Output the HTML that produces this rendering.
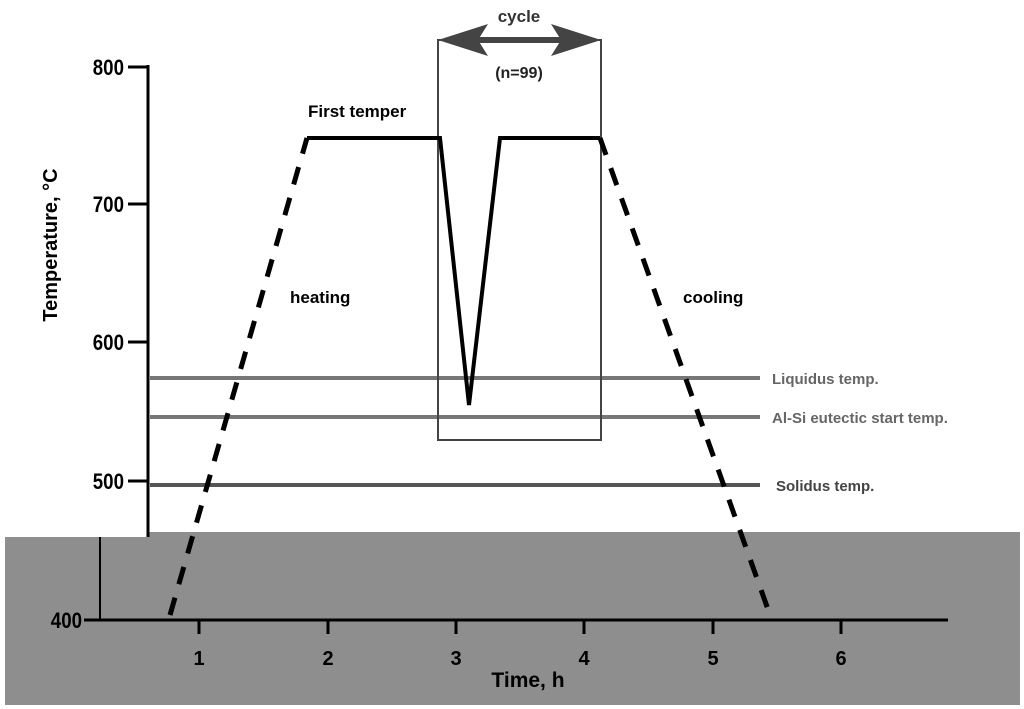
<!DOCTYPE html>
<html><head><style>
html,body{margin:0;padding:0;background:#fff;}
svg{display:block;}
text{font-family:"Liberation Sans",sans-serif;font-weight:bold;}
</style></head><body>
<svg width="1024" height="709" viewBox="0 0 1024 709" xmlns="http://www.w3.org/2000/svg">
<rect width="1024" height="709" fill="#fff"/>
<polygon points="5,537 148,537 148,532 1020,532 1020,705 5,705" fill="#8e8e8e"/>
<line x1="148" y1="65" x2="148" y2="537" stroke="#000" stroke-width="3"/>
<line x1="128" y1="67" x2="148" y2="67" stroke="#000" stroke-width="3"/>
<line x1="128" y1="204" x2="148" y2="204" stroke="#000" stroke-width="3"/>
<line x1="128" y1="342" x2="148" y2="342" stroke="#000" stroke-width="3"/>
<line x1="128" y1="481" x2="148" y2="481" stroke="#000" stroke-width="3"/>
<g font-size="22" text-anchor="end" fill="#000">
<text x="124" y="75" transform="translate(124,0) scale(0.85,1) translate(-124,0)">800</text>
<text x="124" y="212" transform="translate(124,0) scale(0.85,1) translate(-124,0)">700</text>
<text x="124" y="350" transform="translate(124,0) scale(0.85,1) translate(-124,0)">600</text>
<text x="124" y="489" transform="translate(124,0) scale(0.85,1) translate(-124,0)">500</text>
</g>
<line x1="100" y1="537" x2="100" y2="620" stroke="#000" stroke-width="2"/>
<line x1="84" y1="620" x2="948" y2="620" stroke="#000" stroke-width="3"/>
<text x="82" y="628" font-size="22" text-anchor="end" transform="translate(82,0) scale(0.85,1) translate(-82,0)">400</text>
<g stroke="#000" stroke-width="3">
<line x1="199" y1="620" x2="199" y2="634"/><line x1="328" y1="620" x2="328" y2="634"/>
<line x1="456" y1="620" x2="456" y2="634"/><line x1="584" y1="620" x2="584" y2="634"/>
<line x1="713" y1="620" x2="713" y2="634"/><line x1="841" y1="620" x2="841" y2="634"/>
</g>
<g font-size="20" text-anchor="middle">
<text x="199" y="665">1</text><text x="328" y="665">2</text><text x="456" y="665">3</text>
<text x="584" y="665">4</text><text x="713" y="665">5</text><text x="841" y="665">6</text>
</g>
<text x="528" y="687" font-size="21" text-anchor="middle">Time, h</text>
<text transform="translate(57,245) rotate(-90)" font-size="20" text-anchor="middle">Temperature, °C</text>
<line x1="150" y1="378" x2="760" y2="378" stroke="#777" stroke-width="4"/>
<line x1="150" y1="417" x2="760" y2="417" stroke="#777" stroke-width="4"/>
<line x1="150" y1="485" x2="760" y2="485" stroke="#555" stroke-width="4"/>
<g font-size="15" fill="#666">
<text x="772" y="384">Liquidus temp.</text>
<text x="772" y="423">Al-Si eutectic start temp.</text>
<text x="776" y="491" fill="#444">Solidus temp.</text>
</g>
<rect x="438" y="40" width="163" height="400" fill="none" stroke="#444" stroke-width="2"/>
<line x1="470" y1="40" x2="570" y2="40" stroke="#444" stroke-width="6"/>
<polygon points="438,40 488,24 478,40 488,56" fill="#444"/>
<polygon points="601,40 551,24 561,40 551,56" fill="#444"/>
<text x="519" y="22" font-size="17" text-anchor="middle" fill="#333">cycle</text>
<text x="519" y="78" font-size="16" text-anchor="middle" fill="#222">(n=99)</text>
<line x1="170" y1="615" x2="307" y2="138" stroke="#000" stroke-width="5" stroke-dasharray="18,14"/>
<line x1="600" y1="138" x2="770" y2="615" stroke="#000" stroke-width="5" stroke-dasharray="18,14"/>
<polyline points="307,138 440,138 469,405 500,138 600,138" fill="none" stroke="#000" stroke-width="4"/>
<text x="308" y="117" font-size="17">First temper</text>
<text x="290" y="303" font-size="17">heating</text>
<text x="683" y="303" font-size="17">cooling</text>
</svg>
</body></html>
